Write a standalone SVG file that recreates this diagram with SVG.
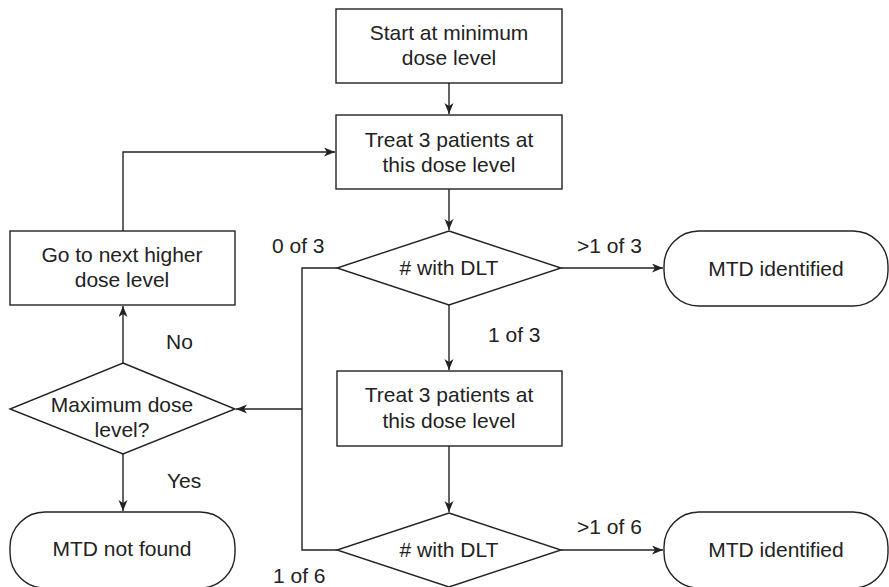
<svg xmlns="http://www.w3.org/2000/svg" width="889" height="587" viewBox="0 0 889 587">
<style>
.box{fill:#fff;stroke:#222;stroke-width:1.4}
.ln{fill:none;stroke:#222;stroke-width:1.4}
text{font-family:"Liberation Sans",Arial,sans-serif;font-size:21px;fill:#222}
.c{text-anchor:middle}
</style>
<defs>
<marker id="ah" markerUnits="userSpaceOnUse" markerWidth="12" markerHeight="10" refX="11" refY="4.5" orient="auto">
<path d="M0,0 L11,4.5 L0,9 L3,4.5 Z" fill="#222"/>
</marker>
</defs>
<rect width="889" height="587" fill="#fff"/>
<g id="connectors">
<line class="ln" x1="449" y1="83" x2="449" y2="114" marker-end="url(#ah)"/>
<path class="ln" d="M123,231 V152 H335" marker-end="url(#ah)"/>
<line class="ln" x1="449" y1="189" x2="449" y2="230" marker-end="url(#ah)"/>
<line class="ln" x1="561" y1="268" x2="663" y2="268" marker-end="url(#ah)"/>
<line class="ln" x1="449" y1="305" x2="449" y2="370" marker-end="url(#ah)"/>
<path class="ln" d="M337,268 H302 V550 H337"/>
<line class="ln" x1="302" y1="409" x2="236" y2="409" marker-end="url(#ah)"/>
<line class="ln" x1="449" y1="446" x2="449" y2="512" marker-end="url(#ah)"/>
<line class="ln" x1="561" y1="550" x2="663" y2="550" marker-end="url(#ah)"/>
<line class="ln" x1="123" y1="363" x2="123" y2="306" marker-end="url(#ah)"/>
<line class="ln" x1="123" y1="454" x2="123" y2="511" marker-end="url(#ah)"/>
<text x="272" y="253">0 of 3</text>
<text x="577" y="253">&gt;1 of 3</text>
<text x="488" y="342">1 of 3</text>
<text x="166" y="349">No</text>
<text x="167" y="488">Yes</text>
<text x="577" y="534">&gt;1 of 6</text>
<text x="273" y="583">1 of 6</text>
</g>
<g id="start">
<rect class="box" x="336" y="9" width="226" height="74"/>
<text class="c" x="449" y="40">Start at minimum</text>
<text class="c" x="449" y="65">dose level</text>
</g>
<g id="treat1">
<rect class="box" x="336" y="115" width="226" height="74"/>
<text class="c" x="449" y="147">Treat 3 patients at</text>
<text class="c" x="449" y="172">this dose level</text>
</g>
<g id="gonext">
<rect class="box" x="10" y="231" width="225" height="74"/>
<text class="c" x="122" y="262">Go to next higher</text>
<text class="c" x="122" y="287">dose level</text>
</g>
<g id="dlt1">
<polygon class="box" points="449,231 561,268 449,305 337,268"/>
<text class="c" x="449" y="275">#  with DLT</text>
</g>
<g id="mtd1">
<rect class="box" x="664" y="231" width="224" height="75" rx="35" ry="35"/>
<text class="c" x="776" y="276">MTD identified</text>
</g>
<g id="treat2">
<rect class="box" x="337" y="371" width="225" height="75"/>
<text class="c" x="449" y="402">Treat 3 patients at</text>
<text class="c" x="449" y="428">this dose level</text>
</g>
<g id="maxdose">
<polygon class="box" points="123,363 235,409 123,454 10,409"/>
<text class="c" x="122" y="412">Maximum dose</text>
<text class="c" x="122" y="437">level?</text>
</g>
<g id="dlt2">
<polygon class="box" points="449,513 561,550 449,587 337,550"/>
<text class="c" x="449" y="557">#  with DLT</text>
</g>
<g id="mtd2">
<rect class="box" x="664" y="512" width="224" height="76" rx="35" ry="35"/>
<text class="c" x="776" y="557">MTD identified</text>
</g>
<g id="notfound">
<rect class="box" x="10" y="512" width="225" height="76" rx="35" ry="35"/>
<text class="c" x="122" y="556">MTD not found</text>
</g>
</svg>
